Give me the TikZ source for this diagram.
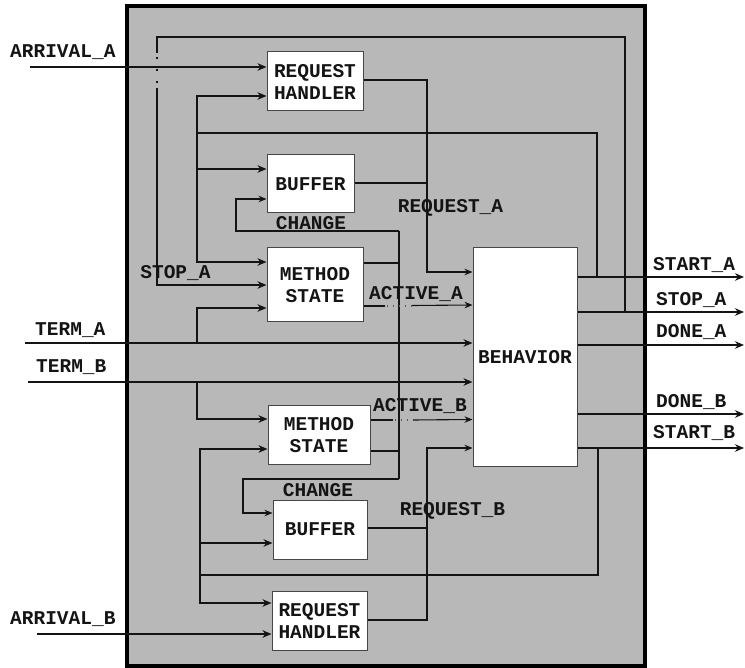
\documentclass[tikz,border=0pt]{standalone}
\usepackage{fontspec}
\newfontfamily\lblfont{Liberation Mono}
\usetikzlibrary{arrows.meta,calc}
\definecolor{bggray}{RGB}{184,184,184}
\definecolor{boxline}{RGB}{70,70,70}
\definecolor{ink}{RGB}{20,20,20}
\begin{document}
\begin{tikzpicture}[x=1pt,y=-1pt,
  txt/.style={font=\lblfont\bfseries\fontsize{19.5}{22}\selectfont, text=ink},
  lbl/.style={txt, inner sep=0pt, text height=11pt, text depth=0pt},
  blk/.style={txt, draw=boxline, line width=1pt, fill=white, align=center, inner sep=0pt},
  thk/.style={line width=2pt, draw=ink},
  thn/.style={line width=1.1pt, draw=ink},
  tipA/.style={-{Stealth[length=9pt,width=7.5pt]}},
  tipB/.style={-{Stealth[length=8pt,width=6.5pt]}},
  dotsv/.style={dash pattern=on 2pt off 10pt},
  dotsh/.style={dash pattern=on 1pt off 5pt, draw=ink!70},
]
\useasboundingbox (0,0) rectangle (745,668);
% frame
\node[draw=black, line width=4.5pt, fill=bggray, minimum width=518pt, minimum height=660pt, inner sep=0pt] (frame) at (386,336) {};

% blocks
\node[blk, minimum width=96pt, minimum height=59pt] (rhA) at (315,81.5) {REQUEST\\HANDLER};
\node[blk, minimum width=87pt, minimum height=58pt] (bufA) at (310.5,184) {BUFFER};
\node[blk, minimum width=96pt, minimum height=74pt] (msA) at (315,285) {METHOD\\STATE};
\node[blk, minimum width=104pt, minimum height=219pt] (beh) at (525,357.5) {BEHAVIOR};
\node[blk, minimum width=102pt, minimum height=59pt] (msB) at (319,435.5) {METHOD\\STATE};
\node[blk, minimum width=94pt, minimum height=59pt] (bufB) at (320,529.5) {BUFFER};
\node[blk, minimum width=95pt, minimum height=59pt] (rhB) at (319.5,620.5) {REQUEST\\HANDLER};

% labels
\node[lbl, anchor=west] (tArrA) at (10,52) {ARRIVAL\_A};
\node[lbl, anchor=west] (tTermA) at (35,330) {TERM\_A};
\node[lbl, anchor=west] (tTermB) at (36,367) {TERM\_B};
\node[lbl, anchor=west] (tArrB) at (10,619) {ARRIVAL\_B};
\node[lbl] (tStopAin) at (175.5,273) {STOP\_A};
\node[lbl] (tChgA) at (311,224) {CHANGE};
\node[lbl] (tChgB) at (318,491) {CHANGE};
\node[lbl] (tReqA) at (450.5,207) {REQUEST\_A};
\node[lbl] (tReqB) at (452.5,510) {REQUEST\_B};
\node[lbl] (tActA) at (416,294) {ACTIVE\_A};
\node[lbl] (tActB) at (420,406) {ACTIVE\_B};
\node[lbl, anchor=west] (tStartA) at (653,265) {START\_A};
\node[lbl, anchor=west] (tStopA) at (656,300) {STOP\_A};
\node[lbl, anchor=west] (tDoneA) at (656,332) {DONE\_A};
\node[lbl, anchor=west] (tDoneB) at (656,402) {DONE\_B};
\node[lbl, anchor=west] (tStartB) at (653,433) {START\_B};

% coordinates for free ends
\coordinate (arrAin) at (30,67);
\coordinate (arrBin) at (37,634);
\coordinate (termAin) at (25,343);
\coordinate (termBin) at (28,382);
\coordinate (startAout) at (744,277);
\coordinate (stopAout) at (744,312);
\coordinate (doneAout) at (744,345);
\coordinate (doneBout) at (744,414);
\coordinate (startBout) at (744,448);

% inputs
\draw[thk,tipA] (arrAin) -- (arrAin -| rhA.west);
\draw[thk,tipA] (arrBin) -- (arrBin -| rhB.west);
\draw[thk,tipA] (termAin) -- (termAin -| beh.west);
\draw[thk,tipA] (termBin) -- (termBin -| beh.west);

% outputs
\draw[thk,tipA] (startAout -| beh.east) -- (startAout);
\draw[thk,tipA] (stopAout -| beh.east) -- (stopAout);
\draw[thk,tipA] (doneAout -| beh.east) -- (doneAout);
\draw[thk,tipA] (doneBout -| beh.east) -- (doneBout);
\draw[thk,tipA] (startBout -| beh.east) -- (startBout);

% STOP_A feedback loop
\draw[thk] (625,312) -- (625,37) -- (157,37) -- (157,53);
\draw[thk,dotsv] (157,57) -- (157,84);
\draw[thk,tipA] (157,88) -- (157,285) -- (msA.west |- 0,285);

% START_A feedback loop
\draw[thk] (597,277) -- (597,133) -- (197,133);
\draw[thk,tipA] (197,133) -- (197,96) -- (rhA.west |- 0,96);
\draw[thk,tipA] (197,133) -- (197,169) -- (bufA.west |- 0,169);
\draw[thk,tipA] (197,169) -- (197,262) -- (msA.west |- 0,262);

% TERM branches
\draw[thk,tipA] (197,343) -- (197,308) -- (msA.west |- 0,308);
\draw[thk,tipA] (197,382) -- (197,419) -- (msB.west |- 0,419);

% START_B feedback loop
\draw[thk] (598,448) -- (598,575) -- (200,575);
\draw[thk,tipA] (200,575) -- (200,449) -- (msB.west |- 0,449);
\draw[thk,tipA] (200,575) -- (200,543) -- (bufB.west |- 0,543);
\draw[thk,tipA] (200,575) -- (200,603) -- (rhB.west |- 0,603);

% REQUEST_A / REQUEST_B
\draw[thn,tipB] (rhA.east |- 0,80) -- (427,80) -- (427,272) -- (beh.west |- 0,272);
\draw[thn] (bufA.east |- 0,183) -- (427,183);
\draw[thn,tipB] (rhB.east |- 0,620) -- (427,620) -- (427,448) -- (beh.west |- 0,448);
\draw[thn] (bufB.east |- 0,528) -- (427,528);

% CHANGE loops
\draw[thn] (399,231) -- (399,479);
\draw[thn] (msA.east |- 0,263) -- (399,263);
\draw[thn,tipB] (399,231) -- (236,231) -- (236,199) -- (bufA.west |- 0,199);
\draw[thn] (msB.east |- 0,451) -- (399,451);
\draw[thn,tipB] (399,479) -- (243,479) -- (243,513) -- (bufB.west |- 0,513);

% ACTIVE_A / ACTIVE_B
\draw[thn] (msA.east |- 0,306) -- (385,306);
\draw[thn,dotsh] (387,306) -- (412,306);
\draw[thn,tipB] (412,305.5) -- (beh.west |- 0,305);
\draw[thn] (msB.east |- 0,420) -- (393,420);
\draw[thn,dotsh] (395,420) -- (413,420);
\draw[thn,tipB] (413,420) -- (beh.west |- 0,419.5);
\end{tikzpicture}
\end{document}
